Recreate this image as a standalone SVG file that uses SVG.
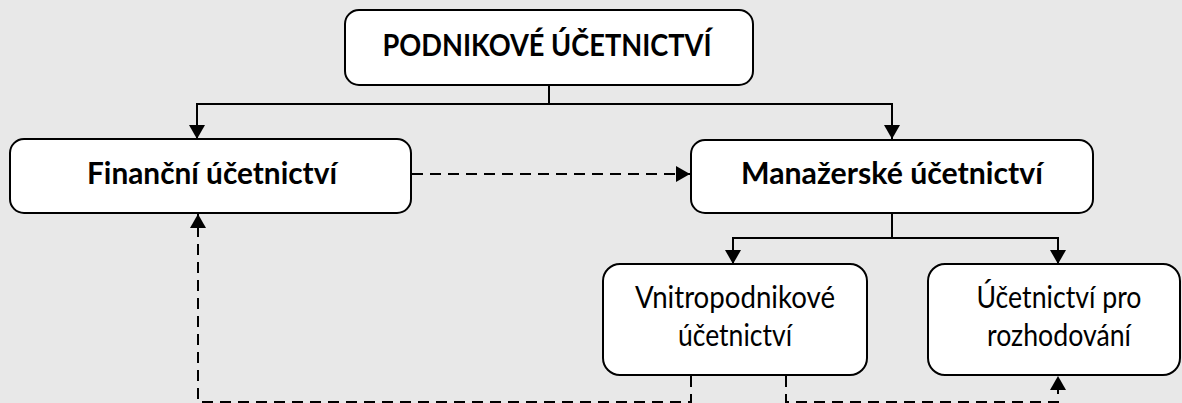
<svg xmlns="http://www.w3.org/2000/svg" width="1182" height="403" viewBox="0 0 1182 403">
  <style>
    .box { fill: #ffffff; stroke: #000000; stroke-width: 2; }
    .bold { font-family: "Lato", "Open Sans", "Liberation Sans", sans-serif; font-weight: bold; font-size: 31px; fill: #000000; text-anchor: middle; }
    .reg { font-family: "Lato", "Open Sans", "Liberation Sans", sans-serif; font-size: 31px; fill: #000000; text-anchor: middle; }
    .line { fill: none; stroke: #000000; stroke-width: 2; }
    .dash { fill: none; stroke: #000000; stroke-width: 2; stroke-dasharray: 11 7; }
  </style>
  <defs>
    <marker id="arrow" viewBox="0 0 14 16" refX="14" refY="8" markerWidth="14" markerHeight="16" markerUnits="userSpaceOnUse" orient="auto">
      <path d="M0,0 L14,8 L0,16 Z" fill="#000000"/>
    </marker>
  </defs>

  <rect x="0" y="0" width="1182" height="403" fill="#e8e8e8"/>

  <g id="connectors">
    <!-- hierarchy: top level to the two branches -->
    <path class="line" d="M549 85 V104 H197 V139" marker-end="url(#arrow)"/>
    <path class="line" d="M549 104 H892 V139" marker-end="url(#arrow)"/>
    <!-- managerial branch to its two parts -->
    <path class="line" d="M892 213 V238 H733 V264" marker-end="url(#arrow)"/>
    <path class="line" d="M892 238 H1058 V264" marker-end="url(#arrow)"/>
    <!-- dashed information flows -->
    <path class="dash" d="M412 174 H690" marker-end="url(#arrow)"/>
    <path class="dash" d="M691 376 V402 H198 V214" marker-end="url(#arrow)"/>
    <path class="dash" d="M786 376 V402 H1058 V376" marker-end="url(#arrow)"/>
  </g>

  <g id="node-podnikove">
    <rect class="box" x="345" y="10" width="408" height="75" rx="14"/>
    <text class="bold" x="547" y="56" textLength="329" lengthAdjust="spacingAndGlyphs">PODNIKOVÉ ÚČETNICTVÍ</text>
  </g>

  <g id="node-financni">
    <rect class="box" x="10" y="139" width="401" height="74" rx="14"/>
    <text class="bold" x="212" y="184" textLength="250" lengthAdjust="spacingAndGlyphs">Finanční účetnictví</text>
  </g>

  <g id="node-manazerske">
    <rect class="box" x="691" y="140" width="402" height="73" rx="14"/>
    <text class="bold" x="892" y="184" textLength="302" lengthAdjust="spacingAndGlyphs">Manažerské účetnictví</text>
  </g>

  <g id="node-vnitropodnikove">
    <rect class="box" x="603" y="264" width="264" height="111" rx="17"/>
    <text class="reg" x="735" y="308" textLength="200" lengthAdjust="spacingAndGlyphs">Vnitropodnikové</text>
    <text class="reg" x="735" y="346" textLength="114" lengthAdjust="spacingAndGlyphs">účetnictví</text>
  </g>

  <g id="node-rozhodovani">
    <rect class="box" x="928" y="264" width="252" height="111" rx="17"/>
    <text class="reg" x="1059" y="308" textLength="165" lengthAdjust="spacingAndGlyphs">Účetnictví pro</text>
    <text class="reg" x="1059" y="346" textLength="144" lengthAdjust="spacingAndGlyphs">rozhodování</text>
  </g>
</svg>
